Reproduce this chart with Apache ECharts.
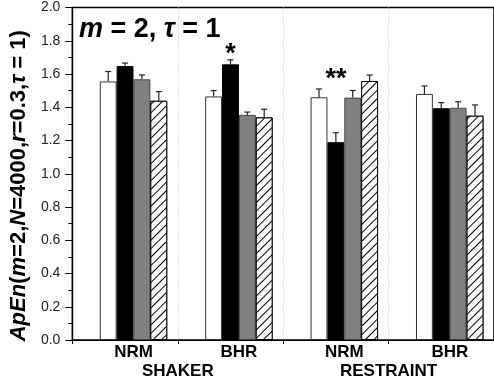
<!DOCTYPE html>
<html>
<head>
<meta charset="utf-8">
<script src="https://cdn.jsdelivr.net/npm/echarts@6/dist/echarts.min.js"></script>
<style>
  html, body { margin: 0; padding: 0; background: #fff; }
  #chart { width: 494px; height: 383px; }
</style>
</head>
<body>
<div id="chart"></div>
<script>
// Conditions along the x axis and the two experiment blocks under them
var categories = ['NRM', 'BHR', 'NRM', 'BHR'];
var blocks = ['SHAKER', 'RESTRAINT'];
var yTicks = [0, 0.2, 0.4, 0.6, 0.8, 1.0, 1.2, 1.4, 1.6, 1.8, 2.0];

// Mean ApEn per group and the upper error (SEM)
var whiteMean   = [1.555, 1.465, 1.460, 1.480];
var whiteErr    = [0.060, 0.035, 0.050, 0.048];
var blackMean   = [1.648, 1.658, 1.190, 1.394];
var blackErr    = [0.018, 0.027, 0.057, 0.034];
var grayMean    = [1.568, 1.354, 1.458, 1.397];
var grayErr     = [0.026, 0.017, 0.043, 0.036];
var hatchMean   = [1.439, 1.339, 1.558, 1.349];
var hatchErr    = [0.055, 0.049, 0.036, 0.065];

// Significance marks over the black bars and the level they sit at
var blackStars  = ['', '*', '**', ''];
var starLevel   = [null, 1.756, 1.60, null];

var chart = echarts.init(document.getElementById('chart'), null, { renderer: 'canvas' });

var FONT = '"Liberation Sans", Arial, Helvetica, sans-serif';
var BAR_FRAC = 0.16;   // bar width as a share of one category band

function barSeries(name, values, style) {
  return {
    name: name,
    type: 'bar',
    barWidth: (BAR_FRAC * 100) + '%',
    barGap: '0%',
    data: values,
    itemStyle: style,
    silent: true,
    z: 2
  };
}

// Upper whisker with a short cap; slot is the bar's position inside the group
function errorSeries(means, errs, slot) {
  var data = means.map(function (m, i) { return [i, m, m + errs[i]]; });
  return {
    type: 'custom',
    silent: true,
    z: 5,
    data: data,
    renderItem: function (params, api) {
      var band = api.size([1, 0])[0];
      var barW = band * BAR_FRAC;
      var base = api.coord([api.value(0), api.value(1)]);
      var top = api.coord([api.value(0), api.value(2)]);
      var x = base[0] + (slot - 2) * barW;
      var cap = barW * 0.18;
      var st = { stroke: '#222', lineWidth: 1.2 };
      return {
        type: 'group',
        children: [
          { type: 'line', shape: { x1: x, y1: base[1], x2: x, y2: top[1] }, style: st },
          { type: 'line', shape: { x1: x - cap, y1: top[1], x2: x + cap, y2: top[1] }, style: st }
        ]
      };
    }
  };
}

// Star text placed at its level, centred on the black bar of the group
var starSeries = {
  type: 'custom',
  silent: true,
  z: 6,
  data: starLevel.map(function (v, i) { return [i, v === null ? 0 : v]; }),
  renderItem: function (params, api) {
    var i = params.dataIndex;
    if (starLevel[i] === null) return null;
    var p = api.coord([api.value(0), api.value(1)]);
    return {
      type: 'text',
      x: p[0],
      y: p[1] + 6,
      style: {
        text: blackStars[i],
        align: 'center',
        verticalAlign: 'middle',
        font: 'bold 27px ' + FONT,
        fill: '#000'
      }
    };
  }
};

var option = {
  animation: false,
  backgroundColor: '#fff',
  grid: {
    left: 71, right: -1, top: 7.5, bottom: 43,
    show: true, borderColor: '#000', borderWidth: 1.5, backgroundColor: 'transparent'
  },
  title: {
    text: '{i|m}{b| = 2, }{i|\u03c4}{b| = 1}',
    left: 74, top: 11,
    textStyle: {
      rich: {
        i: { fontFamily: FONT, fontSize: 27, fontWeight: 'bold', fontStyle: 'italic', color: '#000' },
        b: { fontFamily: FONT, fontSize: 27, fontWeight: 'bold', color: '#000' }
      }
    }
  },
  xAxis: [
    {
      type: 'category',
      data: categories,
      axisLine: { lineStyle: { color: '#000', width: 1.2 } },
      axisTick: { show: true, length: 4, lineStyle: { color: '#000', width: 1 } },
      splitLine: { show: true, lineStyle: { color: '#c4c4c4', type: [1, 2], width: 1 } },
      axisLabel: {
        margin: 4,
        padding: [0, 0, 0, 17],
        fontFamily: FONT, fontSize: 17, fontWeight: 'bold', color: '#000'
      }
    },
    {
      type: 'category',
      data: blocks,
      position: 'bottom',
      axisLine: { show: false },
      axisTick: { show: false },
      splitLine: { show: false },
      axisLabel: {
        margin: 23,
        fontFamily: FONT, fontSize: 17, fontWeight: 'bold', color: '#000'
      }
    }
  ],
  yAxis: {
    type: 'value',
    min: yTicks[0],
    max: yTicks[yTicks.length - 1],
    interval: 0.2,
    axisLine: { show: true, lineStyle: { color: '#000', width: 1.2 } },
    axisTick: { show: true, length: 7, lineStyle: { color: '#000', width: 1 } },
    minorTick: { show: true, splitNumber: 2, length: 4, lineStyle: { color: '#000', width: 1 } },
    splitLine: { show: false },
    axisLabel: {
      margin: 12,
      fontFamily: FONT, fontSize: 14, color: '#222',
      formatter: function (v) { return v.toFixed(1); }
    },
    name: '{i|ApEn}{b|(}{i|m}{b|=2,}{i|N}{b|=4000,}{i|r}{b|=0.3,}{i|\u03c4}{b| = 1)}',
    nameLocation: 'middle',
    nameRotate: 90,
    nameGap: 41,
    nameTextStyle: {
      padding: [0, 24, 0, 0],
      rich: {
        i: { fontFamily: FONT, fontSize: 22, fontWeight: 'bold', fontStyle: 'italic', color: '#000' },
        b: { fontFamily: FONT, fontSize: 22, fontWeight: 'bold', color: '#000' }
      }
    }
  },
  series: [
    // empty leading slot keeps the four bars right of the band centre
    barSeries('spacer', categories.map(function () { return 0; }),
      { color: 'transparent', borderWidth: 0 }),
    barSeries('white', whiteMean,
      { color: '#ffffff', borderColor: '#333', borderWidth: 1 }),
    barSeries('black', blackMean,
      { color: '#000000', borderColor: '#000', borderWidth: 1 }),
    barSeries('gray', grayMean,
      { color: '#808080', borderColor: '#444', borderWidth: 1 }),
    barSeries('hatched', hatchMean,
      {
        color: '#ffffff', borderColor: '#000', borderWidth: 1,
        decal: {
          symbol: 'rect', symbolSize: 1,
          dashArrayX: [1, 0], dashArrayY: [1, 5],
          rotation: -Math.PI / 4,
          color: '#000', backgroundColor: '#fff'
        }
      }),
    errorSeries(whiteMean, whiteErr, 1),
    errorSeries(blackMean, blackErr, 2),
    errorSeries(grayMean, grayErr, 3),
    errorSeries(hatchMean, hatchErr, 4),
    starSeries
  ]
};

chart.setOption(option);
</script>
</body>
</html>
